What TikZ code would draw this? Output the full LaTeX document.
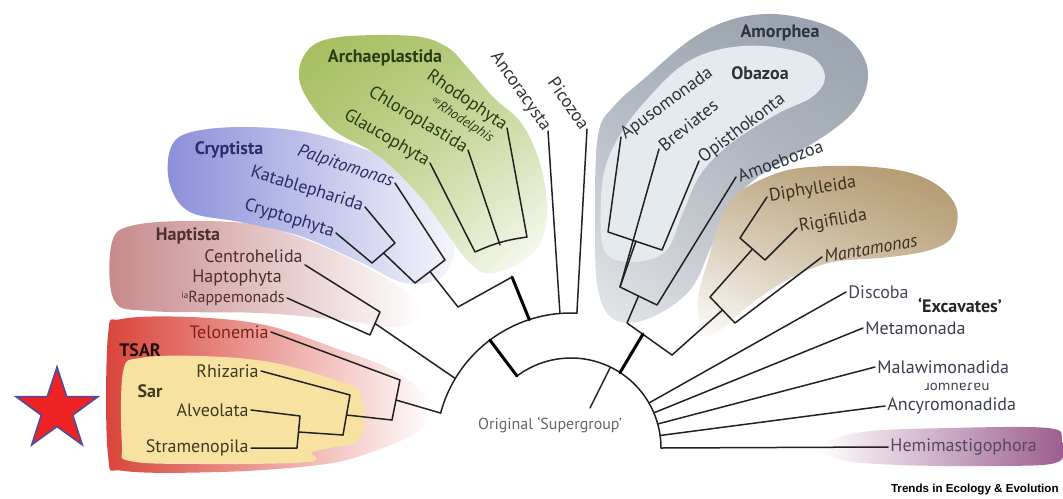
\documentclass[tikz,border=0pt]{standalone}
\usepackage{fontspec}
\setmainfont{PT Sans}
\newfontfamily\ipafont{DejaVu Sans}
\newfontfamily\trendsfont{Liberation Sans}
\usetikzlibrary{shapes.geometric}
\usetikzlibrary{shadings}

\definecolor{TsarRed}{HTML}{D9443A}
\definecolor{SarYellow}{HTML}{F8E2A2}
\definecolor{HaptPink}{HTML}{C7898A}
\definecolor{CryptBlue}{HTML}{8B8FD9}
\definecolor{ArchGreen}{HTML}{A3BD5B}
\definecolor{AmorGray}{HTML}{98A1AC}
\definecolor{ObazLight}{HTML}{E5EAEF}
\definecolor{CrumBrown}{HTML}{B0966A}
\definecolor{HemiPurple}{HTML}{9A5A8C}
\definecolor{StarRed}{HTML}{EE2222}
\definecolor{StarBlue}{HTML}{4B4E9E}
\definecolor{TreeLine}{HTML}{222222}
% text colours
\definecolor{TelText}{HTML}{7E231C}
\definecolor{SarText}{HTML}{3E3A22}
\definecolor{HaptText}{HTML}{4E3030}
\definecolor{CryptText}{HTML}{2A2D68}
\definecolor{ArchText}{HTML}{2E3A14}
\definecolor{AmorText}{HTML}{2C323E}
\definecolor{CrumText}{HTML}{3E3120}
\definecolor{ExcText}{HTML}{3A3F4C}

\tikzset{
    branch/.style={line width=0.75pt, color=TreeLine, line join=round, line cap=round},
    superbranch/.style={line width=1.5pt, color=black, line cap=round},
    taxon/.style={inner sep=1pt, font=\fontsize{9}{10}\selectfont},
    clade/.style={inner sep=1pt, font=\fontsize{9}{10}\selectfont\bfseries},
}

\begin{document}
\begin{tikzpicture}[x=0.5pt, y=-0.5pt]
            \useasboundingbox (0,0) rectangle (1063,498);
            \fill [white] (0,0) rectangle (1063,498);

            % Coloured groups
            % TSAR and Sar
            \shade [left color=TsarRed, middle color=TsarRed!70, right color=white]
                plot [smooth cycle, tension=0.6] coordinates {(108,335) (122,319) (190,317) (265,325) (335,348) (392,370) (428,400) (420,430) (360,456) (310,466) (220,472) (125,471) (108,455)};
            \fill [SarYellow] plot [smooth cycle, tension=0.6] coordinates {(123,372) (140,358) (200,356) (270,362) (335,380) (360,393) (361,437) (330,448) (312,452) (308,462) (200,464) (130,461) (122,445)};
            % Haptista
            \shade [left color=HaptPink, right color=white]
                plot [smooth cycle, tension=0.6] coordinates {(112,242) (135,225) (200,221) (262,226) (322,246) (382,276) (420,306) (400,327) (340,320) (260,313) (150,311) (114,300)};
            % Cryptista
            \shade [left color=CryptBlue, right color=CryptBlue!8]
                plot [smooth cycle, tension=0.6] coordinates {(170,150) (188,133) (240,127) (305,132) (367,150) (410,168) (440,195) (455,240) (443,276) (405,283) (360,262) (300,236) (240,222) (190,212) (170,185)};
            % Archaeplastida
            \shade [upper left=ArchGreen, upper right=ArchGreen!75, lower left=ArchGreen!70, lower right=white]
                plot [smooth cycle, tension=0.6] coordinates {(300,83) (308,50) (340,37) (413,36) (447,47) (467,67) (493,97) (522,124) (541,167) (547,217) (533,253) (493,273) (467,260) (423,200) (380,157) (330,127)};
            % Amorphea and Obazoa
            \shade [upper right=AmorGray, upper left=AmorGray!90, lower left=AmorGray!25, lower right=AmorGray!70]
                plot [smooth cycle, tension=0.6] coordinates {(598,135) (615,105) (645,78) (690,40) (730,20) (773,14) (817,22) (847,37) (865,60) (867,85) (855,110) (830,132) (790,157) (758,177) (733,202) (712,245) (690,290) (650,318) (615,320) (598,290) (595,220)};
            \fill [ObazLight] plot [smooth cycle, tension=0.6] coordinates {(606,165) (620,135) (642,105) (680,67) (717,50) (763,46) (810,56) (825,77) (812,97) (777,114) (730,144) (700,175) (682,215) (665,252) (630,262) (604,250) (601,200)};
            % CRuMs
            \shade [upper right=CrumBrown, upper left=CrumBrown!75, lower right=CrumBrown!55, lower left=white]
                plot [smooth cycle, tension=0.6] coordinates {(722,215) (737,194) (767,177) (800,168) (857,166) (907,172) (940,187) (957,210) (952,237) (930,250) (890,257) (840,261) (813,268) (780,284) (747,307) (720,330) (703,335) (698,300) (708,260)};
            % Hemimastigophora
            \shade [left color=white, right color=HemiPurple]
                plot [smooth cycle, tension=0.6] coordinates {(822,446) (862,432) (950,428) (1048,428) (1062,440) (1058,462) (1000,466) (900,465) (842,460)};

            % Star
            \node [star, star points=5, star point ratio=2.6, minimum size=43pt, inner sep=0pt,
                   draw=StarBlue, fill=StarRed, line width=0.8pt] (sarstar) at (57,410) {};

            % Labels
            % TSAR
            \node [taxon, TelText, anchor=east] (telonemia) at (271,332) {Telonemia};
            \node [taxon, SarText, anchor=east] (rhizaria) at (261,371) {Rhizaria};
            \node [taxon, SarText, anchor=east] (alveolata) at (251,410) {Alveolata};
            \node [taxon, SarText, anchor=east] (stramenopila) at (251,448) {Stramenopila};
            \node [clade, black!85!TsarRed] (tsar) at (140,350) {TSAR};
            \node [clade, SarText] (sar) at (150,391) {Sar};
            % Haptista
            \node [clade, HaptText] (haptista) at (188,236) {Haptista};
            \node [taxon, HaptText, anchor=east] (centrohelida) at (305,256) {Centrohelida};
            \node [taxon, HaptText] (haptophyta) at (237,278) {Haptophyta};
            \node [taxon, HaptText, anchor=east, font=\fontsize{8}{9}\selectfont] (rappemonads) at (287,298)
                {\raisebox{2pt}{\fontsize{4.5}{5}\selectfont ia}Rappemonads};
            % Cryptista
            \node [clade, CryptText] (cryptista) at (229,150) {Cryptista};
            \node [taxon, CryptText, rotate=-18, anchor=east, font=\fontsize{9}{10}\selectfont\itshape] (palpitomonas) at (395,183) {Palpitomonas};
            \node [taxon, CryptText, rotate=-17, anchor=east] (katablepharida) at (365,207) {Katablepharida};
            \node [taxon, CryptText, rotate=-17, anchor=east] (cryptophyta) at (336,233) {Cryptophyta};
            % Archaeplastida
            \node [clade, ArchText] (archaeplastida) at (385,58) {Archaeplastida};
            \node [taxon, ArchText, rotate=-34, anchor=east] (rhodophyta) at (507,128) {Rhodophyta};
            \node [taxon, ArchText, rotate=-33, anchor=east, font=\fontsize{7}{8}\selectfont\itshape] (rhodelphis) at (494,141)
                {\raisebox{2pt}{\fontsize{4}{5}\selectfont ap}Rhodelphis};
            \node [taxon, ArchText, rotate=-31, anchor=east] (chloroplastida) at (468,150) {Chloroplastida};
            \node [taxon, ArchText, rotate=-30, anchor=east] (glaucophyta) at (430,163) {Glaucophyta};
            % Orphans
            \node [taxon, black!80, rotate=-55, anchor=east] (ancoracysta) at (548,131) {Ancoracysta};
            \node [taxon, black!80, rotate=-55, anchor=east] (picozoa) at (587,129) {Picozoa};
            % Amorphea
            \node [clade, AmorText] (amorphea) at (780,33) {Amorphea};
            \node [clade, AmorText] (obazoa) at (760,73) {Obazoa};
            \node [taxon, AmorText, rotate=36, anchor=west] (apusomonada) at (621,137) {Apusomonada};
            \node [taxon, AmorText, rotate=39, anchor=west] (breviates) at (659,149) {Breviates};
            \node [taxon, AmorText, rotate=37, anchor=west] (opisthokonta) at (699,161) {Opisthokonta};
            \node [taxon, AmorText, rotate=20, anchor=west] (amoebozoa) at (736,177) {Amoebozoa};
            % CRuMs
            \node [taxon, CrumText, rotate=9, anchor=west] (diphylleida) at (767,197) {Diphylleida};
            \node [taxon, CrumText, rotate=10, anchor=west] (rigifilida) at (797,228) {Rigifilida};
            \node [taxon, CrumText, rotate=10, anchor=west, font=\fontsize{9}{10}\selectfont\itshape] (mantamonas) at (822,257) {Mantamonas};
            % Excavates and others
            \node [taxon, ExcText!80!HemiPurple, anchor=west] (discoba) at (846,292) {Discoba};
            \node [clade, black!85] (excavates) at (960,305) {`Excavates'};
            \node [taxon, ExcText, anchor=west] (metamonada) at (863,328) {Metamonada};
            \node [taxon, ExcText, anchor=west] (malawimonadida) at (875,367) {Malawimonadida};
            \node [inner sep=1pt, ExcText, font=\ipafont\fontsize{6.5}{7}\selectfont] (crumsflip) at (957,387) {ɹomnɐɾɐu};
            \node [taxon, ExcText, anchor=west] (ancyromonadida) at (885,406) {Ancyromonadida};
            \node [taxon, ExcText!70!HemiPurple, anchor=west] (hemimastigophora) at (888,447) {Hemimastigophora};
            % Centre and source
            \node [taxon, black!60, font=\fontsize{8}{9}\selectfont] (supergroup) at (550,425) {Original `Supergroup'};
            \node [anchor=east, inner sep=1pt, font=\trendsfont\bfseries\fontsize{5.8}{6.5}\selectfont] (trends) at (1061,490) {Trends in Ecology \& Evolution};

            % Backbone arcs
            \coordinate (arcTsar)   at ({571+135*cos(165)},   {448-135*sin(165)});
            \coordinate (arcHapt)   at ({571+135*cos(149)},   {448-135*sin(149)});
            \coordinate (arcDiaOut) at ({571+135*cos(126.9)}, {448-135*sin(126.9)});
            \coordinate (arcDia)    at ({571+135*cos(108)},   {448-135*sin(108)});
            \coordinate (arcAnco)   at ({571+135*cos(94.7)},  {448-135*sin(94.7)});
            \coordinate (arcPico)   at ({571+135*cos(87.5)},  {448-135*sin(87.5)});
            \coordinate (arcDiaIn)  at ({571+90*cos(126.9)},  {448-90*sin(126.9)});
            \coordinate (arcSuper)  at ({571+90*cos(64)},     {448-90*sin(64)});
            \coordinate (arcAmor)   at ({571+90*cos(57)},     {448-90*sin(57)});
            \coordinate (arcDisc)   at ({571+90*cos(30)},     {448-90*sin(30)});
            \coordinate (arcMeta)   at ({571+90*cos(23)},     {448-90*sin(23)});
            \coordinate (arcMala)   at ({571+90*cos(15.5)},   {448-90*sin(15.5)});
            \coordinate (arcAncy)   at ({571+90*cos(8)},      {448-90*sin(8)});
            \coordinate (arcHemi)   at (661,448);
            \coordinate (superTip)  at (590,408);
            \draw [branch] plot [domain=165:87.5, samples=60] ({571+135*cos(\x)}, {448-135*sin(\x)});
            \draw [branch] plot [domain=126.9:0, samples=60] ({571+90*cos(\x)}, {448-90*sin(\x)});
            \draw [superbranch] (arcDiaIn) -- (arcDiaOut);
            \draw [branch] (arcSuper) -- (superTip);

            % TSAR
            \coordinate (tsarTop) at (400,380);
            \coordinate (tsarBot) at (392,420);
            \coordinate (tsarMid) at (396,400);
            \coordinate (sarTop) at (350,395);
            \coordinate (sarBot) at (343,435);
            \coordinate (sarMid) at (346.5,415);
            \coordinate (alvTop) at (300,416);
            \coordinate (alvBot) at (297,448);
            \coordinate (alvMid) at (298.5,432);
            \draw [branch] (telonemia.east) -- (tsarTop) -- (tsarBot);
            \draw [branch] (rhizaria.east) -- (sarTop) -- (sarBot);
            \draw [branch] (alveolata.east) -- (alvTop) -- (alvBot) -- (stramenopila.east);
            \draw [branch] (alvMid) -- (sarBot);
            \draw [branch] (sarMid) -- (tsarBot);
            \draw [branch] (tsarMid) -- (arcTsar);

            % Haptista
            \coordinate (haptTop) at (380,312);
            \coordinate (haptBot) at (370,335);
            \coordinate (haptMid) at (375,323.5);
            \draw [branch] (centrohelida.south east) -- (haptTop) -- (haptBot) -- (rappemonads.east);
            \draw [branch] (haptMid) -- (arcHapt);

            % Cryptista
            \coordinate (kataTop) at (395,243);
            \coordinate (kataBot) at (372,263);
            \coordinate (kataMid) at (383.5,253);
            \coordinate (cryTop) at (445,260);
            \coordinate (cryBot) at (415,283);
            \coordinate (cryMid) at (430,271.5);
            \coordinate (diaLeft) at (458,307);
            \coordinate (diaRight) at (512,277);
            \draw [branch] (katablepharida.east) -- (kataTop) -- (kataBot) -- (cryptophyta.east);
            \draw [branch] (kataMid) -- (cryBot) -- (cryTop) -- (palpitomonas.east);
            \draw [branch] (cryMid) -- (diaLeft) -- (diaRight);
            \draw [superbranch] (diaRight) -- (arcDia);

            % Archaeplastida
            \coordinate (archLeft) at (475,252);
            \coordinate (archMid) at (500,245);
            \coordinate (archRight) at (527,237);
            \draw [branch] (glaucophyta.east) -- (archLeft) to [bend left=8] (archRight) -- (rhodophyta.east);
            \draw [branch] (chloroplastida.east) -- (archMid);

            % Ancoracysta, Picozoa
            \draw [branch] (ancoracysta.east) -- (arcAnco);
            \draw [branch] (picozoa.east) -- (arcPico);

            % Amorphea
            \coordinate (opiLeft) at (608,232);
            \coordinate (opiRight) at (662,250);
            \coordinate (opiMid) at (636,241);
            \coordinate (obaLeft) at (620,287);
            \coordinate (obaRight) at (657,305);
            \coordinate (obaMid) at (638.5,296);
            \coordinate (amoLeft) at (627,323);
            \coordinate (amoRight) at (672,355);
            \coordinate (amoJoin) at (643,334);
            \draw [branch] (apusomonada.west) -- (opiLeft) -- (opiRight) -- (opisthokonta.west);
            \draw [branch] (breviates.west) -- (obaLeft) -- (obaRight) -- (amoebozoa.west);
            \draw [branch] (opiMid) -- (obaLeft);
            \draw [branch] (obaMid) -- (amoLeft) -- (amoRight);
            \draw [superbranch] (amoJoin) -- (arcAmor);

            % CRuMs
            \coordinate (diphTop) at (740,238);
            \coordinate (diphBot) at (765,260);
            \coordinate (diphMid) at (752.5,249);
            \coordinate (crumTop) at (710,297);
            \coordinate (crumBot) at (735,323);
            \coordinate (crumMid) at (722.5,310);
            \draw [branch] (diphylleida.west) -- (diphTop) -- (diphBot) -- (rigifilida.west);
            \draw [branch] (diphMid) -- (crumTop) -- (crumBot) -- (mantamonas.west);
            \draw [branch] (crumMid) -- (amoRight);

            % Excavates and the rest
            \draw [branch] (arcDisc) -- (discoba.west);
            \draw [branch] (arcMeta) -- (metamonada.west);
            \draw [branch] (arcMala) -- (malawimonadida.west);
            \draw [branch] (arcAncy) -- (ancyromonadida.west);
            \draw [branch] (arcHemi) -- (hemimastigophora.west);
\end{tikzpicture}
\end{document}
